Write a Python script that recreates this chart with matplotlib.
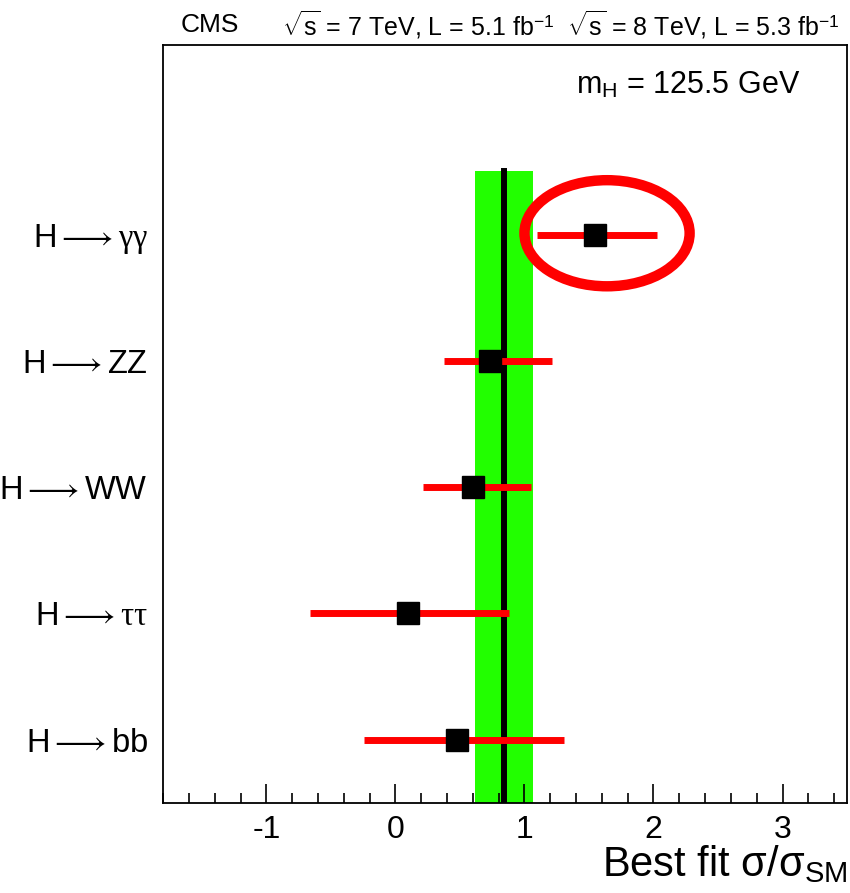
import matplotlib.pyplot as plt
from matplotlib.patches import Ellipse

plt.rcParams['font.family'] = ['Liberation Sans', 'DejaVu Sans']
plt.rcParams['mathtext.fontset'] = 'custom'
plt.rcParams['mathtext.rm'] = 'Liberation Sans'
plt.rcParams['mathtext.it'] = 'Liberation Serif'
plt.rcParams['mathtext.sf'] = 'Liberation Sans'
plt.rcParams['axes.unicode_minus'] = False

# ===DATA=== (bottom to top)
channels = [r'H$\longrightarrow$bb', r'H$\longrightarrow\tau\tau$', r'H$\longrightarrow$WW',
            r'H$\longrightarrow$ZZ', r'H$\longrightarrow\gamma\gamma$']
mu = [0.48, 0.10, 0.60, 0.73, 1.55]
mu_lo = [-0.24, -0.66, 0.21, 0.38, 1.10]
mu_hi = [1.31, 0.88, 1.05, 1.21, 2.03]
ypos = [0.5, 1.5, 2.5, 3.5, 4.5]

mu_comb = 0.84
comb_lo = 0.62
comb_hi = 1.07

# ===graph===
fig = plt.figure(figsize=(8.5, 8.93), dpi=100)
ax = fig.add_axes([0.192, 0.1008, 0.8045, 0.8488])

ax.fill_betweenx([0, 5.0], comb_lo, comb_hi, color='#22ff00', lw=0, zorder=1)
ax.plot([mu_comb, mu_comb], [0, 5.0], color='black', lw=4.3, zorder=2)

for m, lo, hi, y in zip(mu, mu_lo, mu_hi, ypos):
    ax.plot([lo, hi], [y, y], color='red', lw=5, solid_capstyle='butt', zorder=3)
ax.plot(mu, ypos, 's', color='black', markersize=16, zorder=4)

ax.add_patch(Ellipse((1.64, 4.51), 1.28, 0.84, fill=False, edgecolor='red', lw=7.5, zorder=5))

ax.set_xlim(-1.8, 3.5)
ax.set_ylim(0, 6)
ax.set_xticks([-1, 0, 1, 2, 3])
ax.set_xticks([x / 5 for x in range(-9, 18)], minor=True)
ax.tick_params(axis='x', which='major', direction='in', length=14, width=1.2, labelsize=23, pad=9)
ax.tick_params(axis='x', which='minor', direction='in', length=7, width=1.2)
ax.set_yticks(ypos, channels)
ax.tick_params(axis='y', length=0, labelsize=23.5, pad=11)
for s in ax.spines.values():
    s.set_linewidth(1.3)

ax.set_xlabel(r'Best fit $\mathrm{\sigma/\sigma_{SM}}$', fontsize=30, loc='right', labelpad=-2)

fig.text(0.212, 0.972, 'CMS', fontsize=19, va='center')
fig.text(0.988, 0.972, r'$\sqrt{\mathrm{s}}$ = 7 TeV, L = 5.1 fb$^{-1}$  $\sqrt{\mathrm{s}}$ = 8 TeV, L = 5.3 fb$^{-1}$',
         fontsize=18, va='center', ha='right')
ax.text(0.931, 0.947, r'm$_{\mathrm{H}}$ = 125.5 GeV', transform=ax.transAxes, fontsize=22, ha='right', va='center')

fig.savefig('out.png', dpi=100)
